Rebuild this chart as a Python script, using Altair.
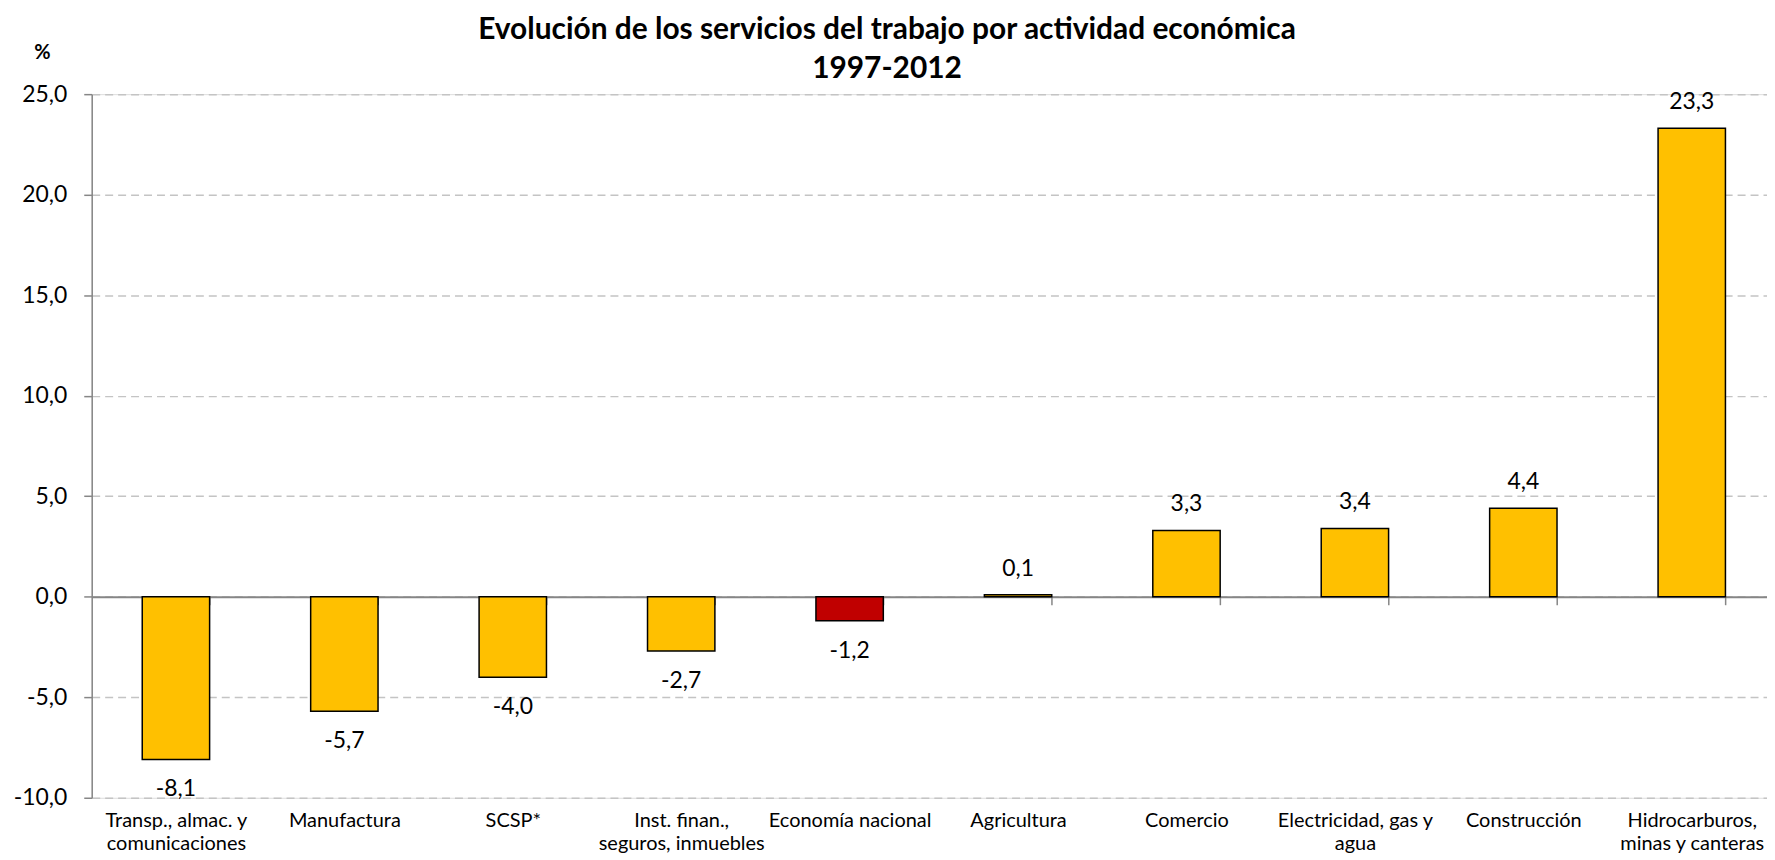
import altair as alt
import pandas as pd

categories = [
    "Transp., almac. y|comunicaciones",
    "Manufactura",
    "SCSP*",
    "Inst. finan.,|seguros, inmuebles",
    "Economía nacional",
    "Agricultura",
    "Comercio",
    "Electricidad, gas y|agua",
    "Construcción",
    "Hidrocarburos,|minas y canteras",
]
values = [-8.1, -5.7, -4.0, -2.7, -1.2, 0.1, 3.3, 3.4, 4.4, 23.3]
y_ticks = [-10, -5, 0, 5, 10, 15, 20, 25]
highlight = "Economía nacional"

df = pd.DataFrame({"cat": categories, "v": values})

FONT = "Lato"
AXIS_GREY = "#868686"
W = 1690

x_enc = alt.X(
    "cat:N",
    sort=categories,
    scale=alt.Scale(paddingInner=0.6, paddingOuter=0.3),
    axis=alt.Axis(
        title=None,
        labelExpr="split(datum.label, '|')",
        labelAngle=0,
        offset=-201.7,
        domainColor=AXIS_GREY,
        domainWidth=2,
        tickColor=AXIS_GREY,
        tickSize=8,
        tickWidth=1.5,
        tickBand="extent",
        labelPadding=207,
        labelBaseline="top",
        labelFont=FONT,
        labelFontSize=20,
        labelColor="black",
        labelLineHeight=23,
        labelLimit=400,
        grid=False,
    ),
)

y_enc = alt.Y(
    "v:Q",
    scale=alt.Scale(domain=[-10, 25], nice=False),
    axis=alt.Axis(
        values=y_ticks,
        title="%",
        titleAngle=0,
        titleX=-50,
        titleY=-42,
        titleAlign="center",
        titleBaseline="middle",
        titleFont=FONT,
        titleFontSize=20,
        titleFontWeight="bold",
        titleColor="black",
        labelExpr="replace(replace(format(datum.value, '.1f'), '.', ','), '\u2212', '-')",
        labelFont=FONT,
        labelFontSize=23,
        labelColor="black",
        labelPadding=17,
        domainColor=AXIS_GREY,
        domainWidth=1.5,
        tickColor=AXIS_GREY,
        tickSize=8,
        tickWidth=1.5,
        grid=True,
        gridColor="#C4C4C4",
        gridDash=[8, 5],
        gridWidth=1.5,
    ),
)

base = alt.Chart(df).transform_calculate(
    lbl="replace(replace(format(datum.v, '.1f'), '.', ','), '\u2212', '-')"
)

bars = base.mark_bar(stroke="black", strokeWidth=1.5).encode(
    x=x_enc,
    y=y_enc,
    y2=alt.datum(0),
    color=alt.condition(
        alt.datum.cat == highlight, alt.value("#C00000"), alt.value("#FFC000")
    ),
)

pos_labels = base.transform_filter("datum.v >= 0").mark_text(
    font=FONT, fontSize=23, color="black", baseline="alphabetic", dy=-19
).encode(x=x_enc, y=y_enc, text="lbl:N")

neg_labels = base.transform_filter("datum.v < 0").mark_text(
    font=FONT, fontSize=23, color="black", baseline="alphabetic", dy=37
).encode(x=x_enc, y=y_enc, text="lbl:N")

chart = (
    alt.layer(bars, pos_labels, neg_labels)
    .properties(
        width=W,
        height=706,
        autosize=alt.AutoSizeParams(type="none"),
        padding={"left": 84, "top": 85, "right": -9, "bottom": 60},
        title=alt.TitleParams(
            ["Evolución de los servicios del trabajo por actividad económica", "1997-2012"],
            font=FONT,
            fontSize=30,
            fontWeight="bold",
            color="black",
            anchor="middle",
            dx=-47,
            baseline="bottom",
            lineHeight=39,
            offset=-72,
        ),
    )
    .configure_view(stroke=None)
    .configure(background="white")
)

chart.save("out.html", embed_options={"renderer": "svg", "actions": False})
